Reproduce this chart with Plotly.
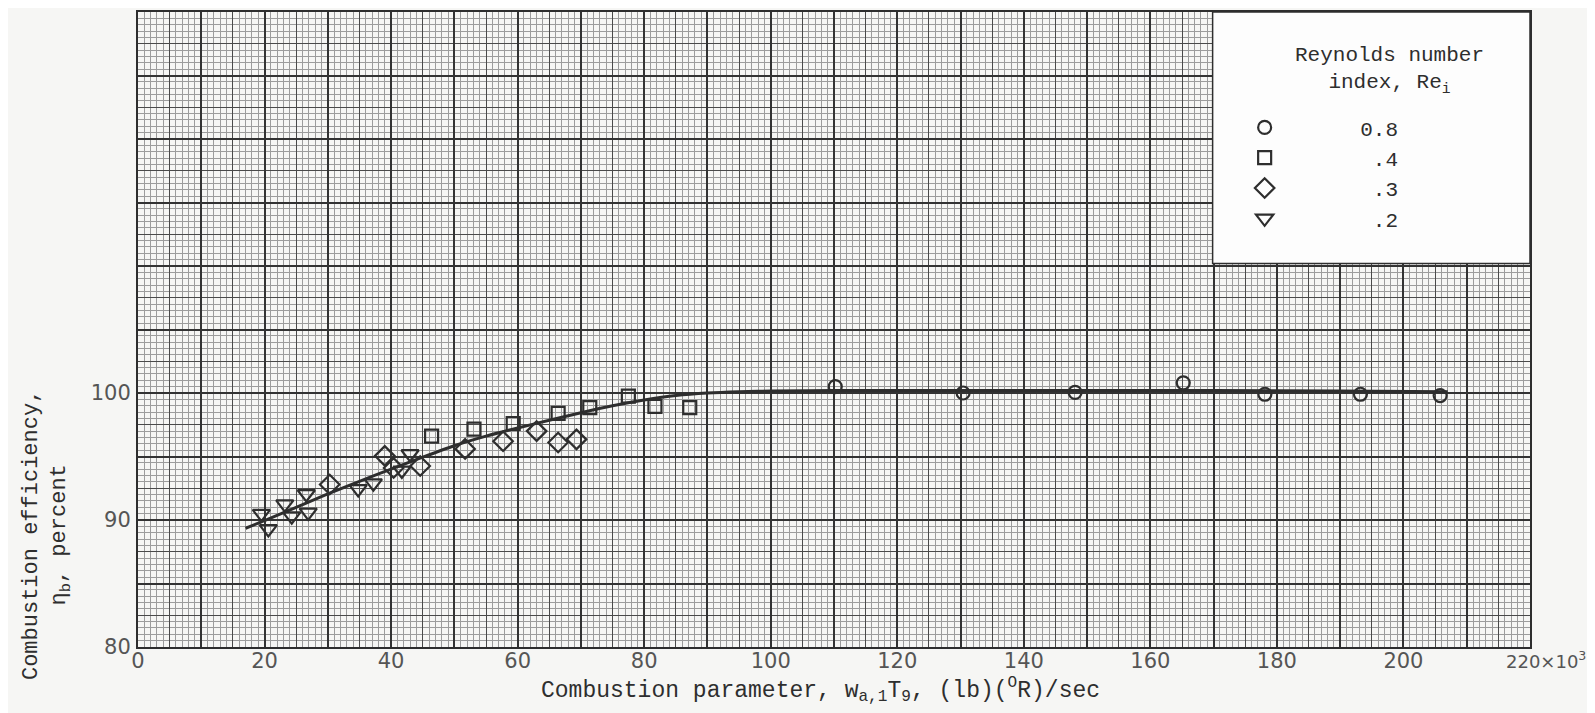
import plotly.graph_objects as go

# ---------------- data ----------------
circle_x = [110.2, 130.4, 148.1, 165.2, 178.1, 193.2, 205.8]
circle_y = [100.5, 100.0, 100.05, 100.8, 99.9, 99.9, 99.8]

square_x = [46.4, 53.1, 59.3, 66.4, 71.4, 77.5, 81.7, 87.2]
square_y = [96.6, 97.15, 97.6, 98.4, 98.85, 99.75, 98.95, 98.85]

diamond_x = [30.3, 39.0, 40.4, 44.6, 51.7, 57.7, 63.0, 66.4, 69.3]
diamond_y = [92.8, 95.05, 94.1, 94.25, 95.6, 96.2, 97.0, 96.1, 96.35]

triangle_x = [19.5, 20.6, 23.2, 24.3, 26.6, 26.9, 34.8, 37.2, 41.7, 43.0]
triangle_y = [90.5, 89.3, 91.25, 90.3, 92.05, 90.6, 92.45, 92.9, 93.9, 95.2]

curve_x = [17, 20, 25, 30, 35, 40, 45, 50, 55, 60, 65, 70, 75, 80, 85, 90,
           95, 100, 110, 130, 150, 170, 190, 207]
curve_y = [89.35, 89.95, 91.0, 92.05, 93.05, 94.0, 94.95, 95.85, 96.6, 97.25,
           97.85, 98.45, 99.0, 99.45, 99.8, 100.0, 100.1, 100.15, 100.2, 100.2,
           100.2, 100.2, 100.15, 100.1]

series_names = ["0.8", ".4", ".3", ".2"]
x_tick_vals = [0, 20, 40, 60, 80, 100, 120, 140, 160, 180, 200]
x_tick_text = ["0", "20", "40", "60", "80", "100", "120", "140", "160", "180", "200"]
x_last_label = "220\u00d710<sup>3</sup>"
y_tick_vals = [80, 90, 100]
y_tick_text = ["80", "90", "100"]

X_RANGE = [0, 220]
Y_RANGE = [80, 130]

INK = "#2e2e2e"
BG = "#f6f6f4"
MONO = "Liberation Mono, Courier New, monospace"
TICKFONT = "DejaVu Sans, Arial, sans-serif"
TICKCOL = "#555555"

fig = go.Figure()

# empty traces that carry the overlay grid axes
for i in (2, 3, 4):
    fig.add_trace(go.Scatter(x=[], y=[], xaxis=f"x{i}", yaxis=f"y{i}",
                             showlegend=False, hoverinfo="skip"))

fig.add_trace(go.Scatter(x=curve_x, y=curve_y, mode="lines",
                         line=dict(color=INK, width=3, shape="spline", smoothing=0.8),
                         showlegend=False, hoverinfo="skip"))

def pad(name, width=9):
    return "\u00a0" * (width - len(name)) + name

marker_specs = [
    (circle_x, circle_y, "circle-open", 13, series_names[0]),
    (square_x, square_y, "square-open", 13, series_names[1]),
    (diamond_x, diamond_y, "diamond-open", 15, series_names[2]),
    (triangle_x, triangle_y, "triangle-down-open", 15, series_names[3]),
]
for xs, ys, sym, size, name in marker_specs:
    fig.add_trace(go.Scatter(x=xs, y=ys, mode="markers", name=pad(name),
                             marker=dict(symbol=sym, size=size, color=INK,
                                         line=dict(color=INK, width=2.2))))

common_x = dict(range=X_RANGE, showticklabels=False, ticks="", zeroline=False,
                showline=False)
common_y = dict(range=Y_RANGE, showticklabels=False, ticks="", zeroline=False,
                showline=False)

fig.update_layout(
    # page body adds an 8px margin; size the figure to fill the window exactly
    width=1587, height=705,
    margin=dict(l=130, r=65, t=2, b=66),
    paper_bgcolor=BG, plot_bgcolor=BG,
    xaxis=dict(range=X_RANGE, tickmode="array", tickvals=x_tick_vals,
               ticktext=x_tick_text, showgrid=False, zeroline=False,
               showline=True, mirror=True, linecolor=INK, linewidth=2,
               ticks="", tickfont=dict(family=TICKFONT, size=21, color=TICKCOL),
               ticklabelstandoff=-6),
    yaxis=dict(range=Y_RANGE, tickmode="array", tickvals=y_tick_vals,
               ticktext=y_tick_text, showgrid=False, zeroline=False,
               showline=True, mirror=True, linecolor=INK, linewidth=2,
               ticks="", tickfont=dict(family=TICKFONT, size=21, color=TICKCOL),
               ticklabelstandoff=1),
    xaxis2=dict(overlaying="x", anchor="y2", dtick=1, tick0=0, showgrid=True,
                gridcolor="#9c9c9c", gridwidth=1, **common_x),
    yaxis2=dict(overlaying="y", anchor="x2", dtick=0.5, tick0=0, showgrid=True,
                gridcolor="#9c9c9c", gridwidth=1, **common_y),
    xaxis3=dict(overlaying="x", anchor="y3", dtick=5, tick0=0, showgrid=True,
                gridcolor="#4a4a4a", gridwidth=1.3, **common_x),
    yaxis3=dict(overlaying="y", anchor="x3", dtick=2.5, tick0=0, showgrid=True,
                gridcolor="#4a4a4a", gridwidth=1.3, **common_y),
    xaxis4=dict(overlaying="x", anchor="y4", dtick=10, tick0=0, showgrid=True,
                gridcolor="#333333", gridwidth=1.7, **common_x),
    yaxis4=dict(overlaying="y", anchor="x4", dtick=5, tick0=0, showgrid=True,
                gridcolor="#333333", gridwidth=1.7, **common_y),
    showlegend=True,
    legend=dict(x=0.795, y=0.85, xanchor="left", yanchor="top",
                bgcolor="rgba(0,0,0,0)", borderwidth=0,
                font=dict(family=MONO, size=21, color=INK),
                itemsizing="trace"),
    shapes=[dict(type="rect", xref="paper", yref="paper",
                 x0=0.772, x1=1.0, y0=0.604, y1=1.0,
                 fillcolor="#fdfdfd", line=dict(color=INK, width=1.5),
                 layer="above")],
    annotations=[
        dict(text="Reynolds number<br>index, Re<sub>i</sub>", xref="paper", yref="paper",
             x=0.899, y=0.908, xanchor="center", yanchor="middle",
             showarrow=False, align="center",
             font=dict(family=MONO, size=21, color=INK)),
        dict(text="Combustion efficiency,<br>\u03b7<sub>b</sub>, percent",
             xref="paper", yref="paper", x=-0.0655, y=0.176, textangle=-90,
             xanchor="center", yanchor="middle",
             showarrow=False, align="center",
             font=dict(family=MONO, size=22, color=INK)),
        dict(text="Combustion parameter, w<sub>a,1</sub>T<sub>9</sub>, (lb)(<sup>O</sup>R)/sec",
             xref="paper", yref="paper", x=0.49, y=-0.0675,
             xanchor="center", yanchor="middle",
             showarrow=False, font=dict(family=MONO, size=23, color=INK)),
        dict(text=x_last_label, xref="x", yref="paper", x=X_RANGE[1], y=-0.021,
             xanchor="left", yanchor="middle", xshift=-26, showarrow=False,
             font=dict(family=TICKFONT, size=18, color=TICKCOL)),
    ],
)

fig.write_html("out.html")
